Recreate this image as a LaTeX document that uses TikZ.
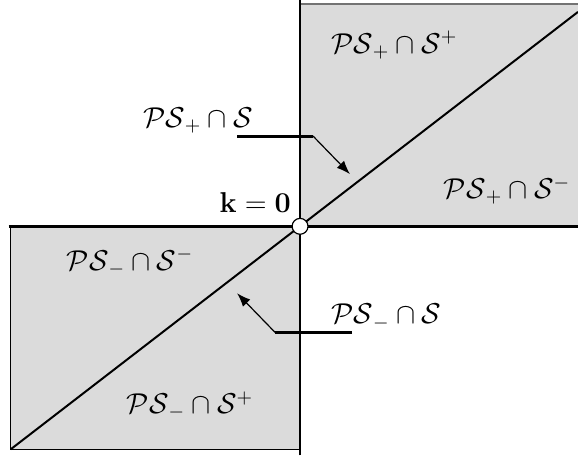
\documentclass[tikz,border=0pt]{standalone}
\usepackage{amsmath,amssymb}
\usepackage{tikz}
\usetikzlibrary{arrows.meta,positioning,calc}
\tikzset{
  regionbox/.style={fill=black!14,draw=black,line width=0.5pt},
  regionlabel/.style={font=\Large,inner sep=1pt},
  axisline/.style={line width=1.3pt},
  pointerline/.style={line width=1.4pt},
  pointerarrow/.style={-{Latex[length=2.4mm,width=1.8mm]},line width=0.6pt}
}
\begin{document}
\begin{tikzpicture}
  \useasboundingbox (-5.29,-4.04) rectangle (4.90,3.99);
  % shaded regions
  \fill[black!14] (0,0) rectangle (4.90,3.92);
  \draw[black!55,line width=1pt] (0,3.92) -- (4.90,3.92);
  \draw[regionbox] (-5.10,-3.93) rectangle (0,0);
  % axes
  \draw[line width=0.6pt] (0,-4.04) -- (0,3.99);
  \draw[axisline] (-5.14,0) -- (4.90,0);
  \coordinate (corner) at (-5.10,-3.93);
  \coordinate (far) at (4.90,3.78);
  \draw[line width=1pt] (corner) -- (far);
  \node[circle,draw,fill=white,minimum size=0.28cm,inner sep=0pt,line width=0.6pt] (origin) at (0,0) {};
  \node[font=\Large] (kzero) at (-0.79,0.42) {$\mathbf{k}=\mathbf{0}$};
  % labels of the regions
  \node[regionlabel] (pppp) at (1.66,3.19) {$\mathcal{PS}_+\cap\mathcal{S}^+$};
  \node[regionlabel] (ppmm) at (3.65,0.63) {$\mathcal{PS}_+\cap\mathcal{S}^-$};
  \node[regionlabel] (mmmm) at (-3.00,-0.63) {$\mathcal{PS}_-\cap\mathcal{S}^-$};
  \node[regionlabel] (mmpp) at (-1.94,-3.16) {$\mathcal{PS}_-\cap\mathcal{S}^+$};
  % labels of the diagonal
  \node[regionlabel] (plusdiag) at (-1.80,1.87) {$\mathcal{PS}_+\cap\mathcal{S}$};
  \node[regionlabel] (minusdiag) at (1.52,-1.60) {$\mathcal{PS}_-\cap\mathcal{S}$};
  \coordinate (plusbar) at (-1.11,1.59);
  \coordinate (plusknee) at (0.23,1.59);
  \coordinate (plustip) at (0.88,0.92);
  \coordinate (minusbar) at (0.92,-1.87);
  \coordinate (minusknee) at (-0.44,-1.87);
  \coordinate (minustip) at (-1.11,-1.18);
  \draw[pointerline] (plusbar) -- (plusknee);
  \draw[pointerarrow] (plusknee) -- (plustip);
  \draw[pointerline] (minusbar) -- (minusknee);
  \draw[pointerarrow] (minusknee) -- (minustip);
\end{tikzpicture}
\end{document}
